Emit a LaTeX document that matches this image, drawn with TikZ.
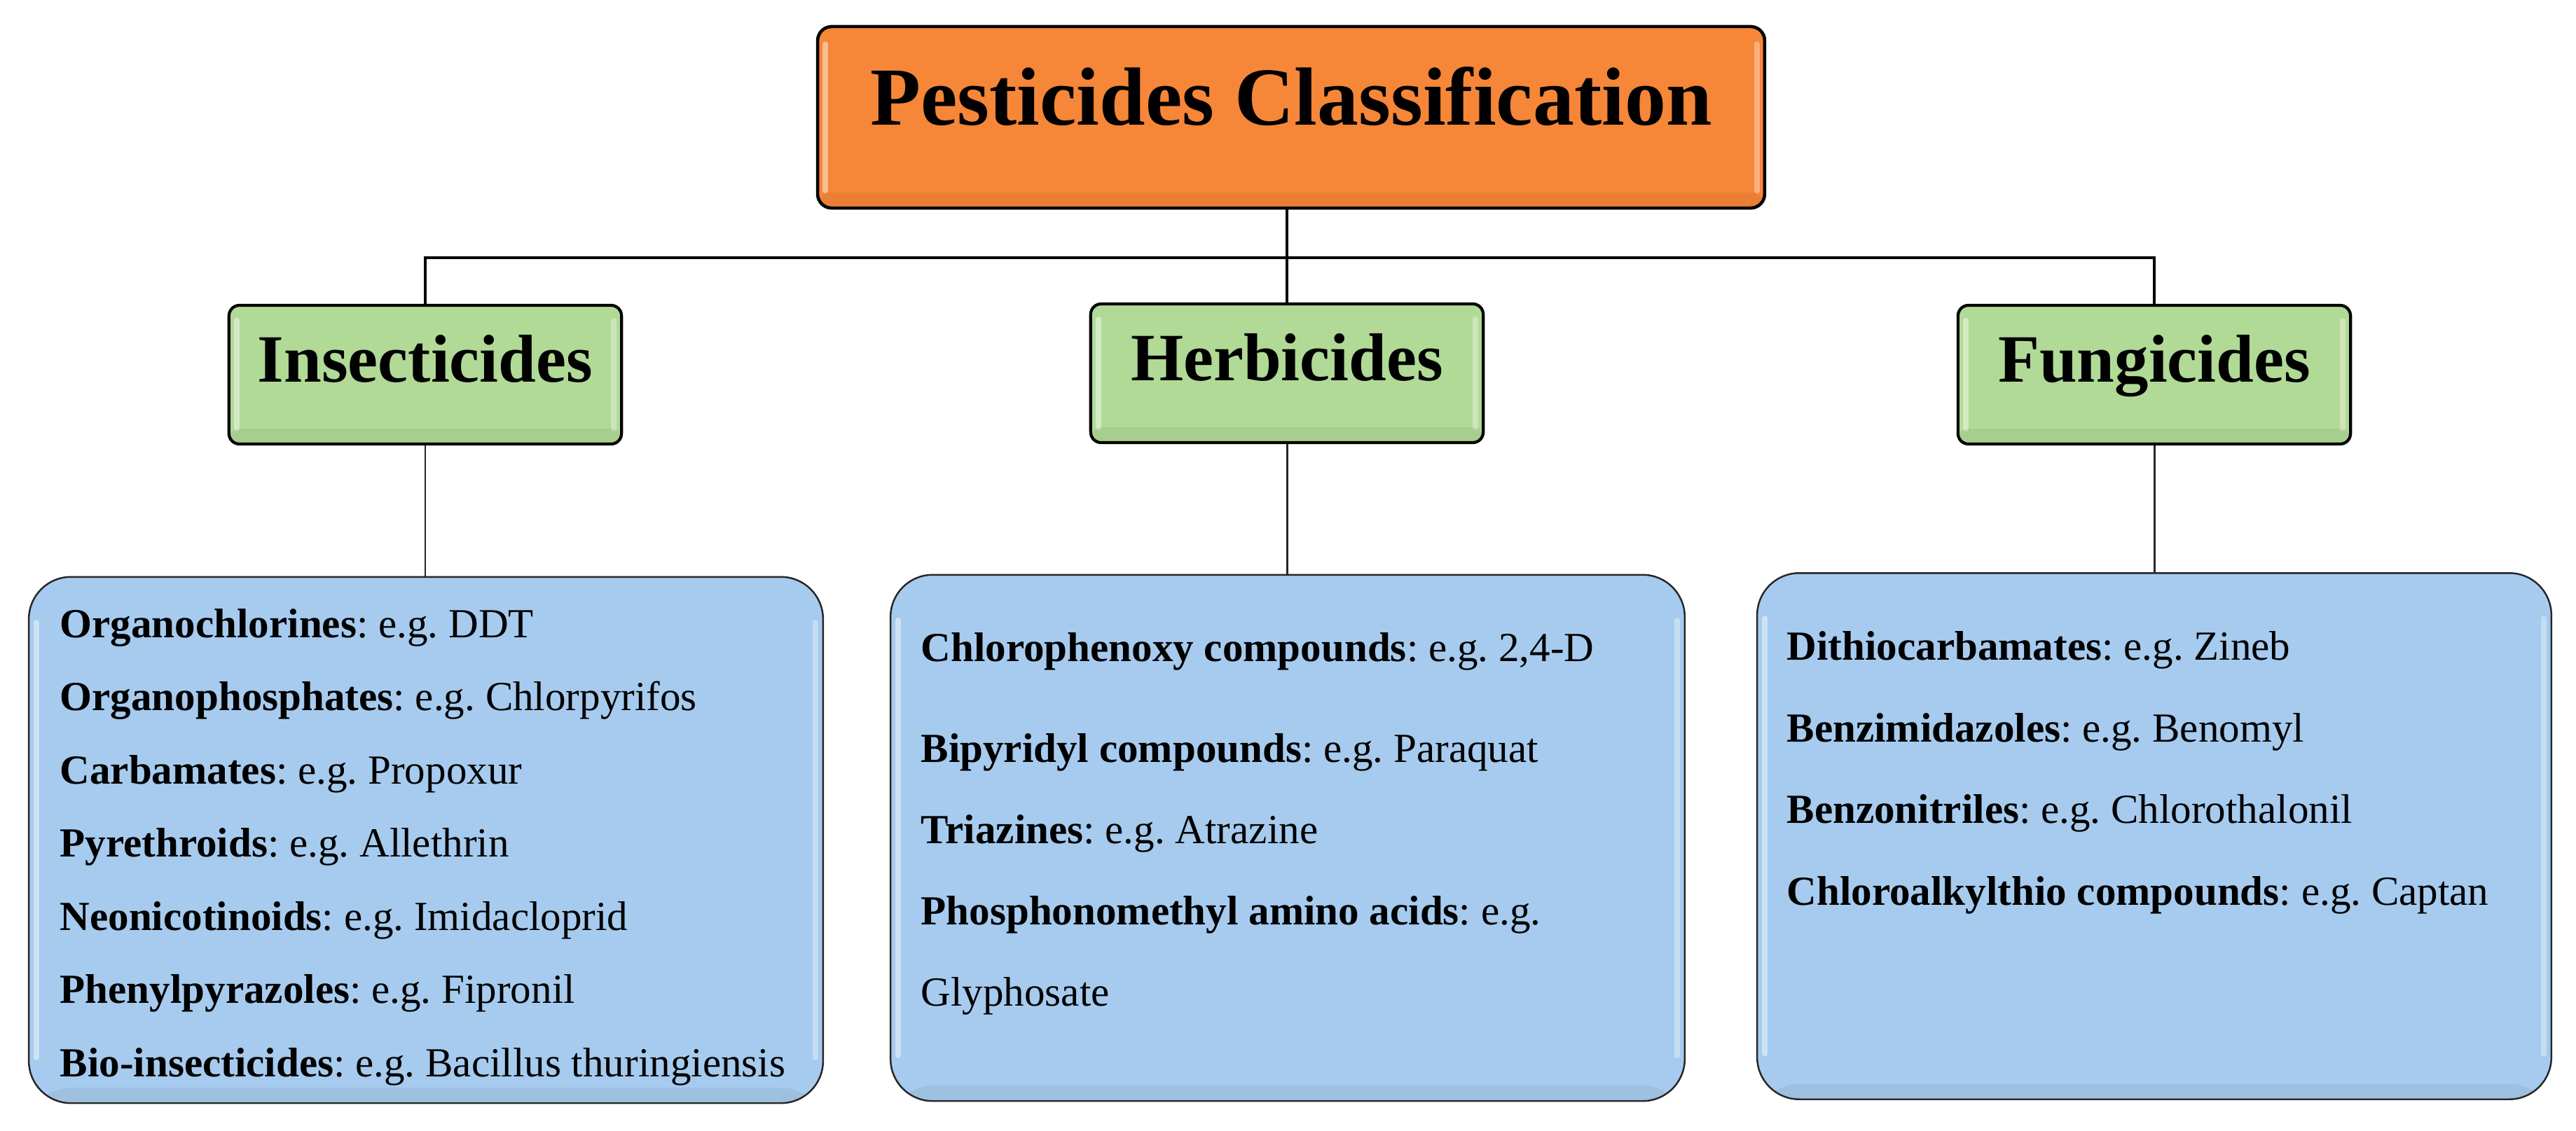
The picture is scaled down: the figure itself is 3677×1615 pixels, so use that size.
\documentclass[tikz,border=0pt]{standalone}
\usepackage{fontspec}
\setmainfont{Liberation Serif}
\definecolor{orangebox}{RGB}{246,134,56}
\definecolor{greenbox}{RGB}{177,218,150}
\definecolor{bluebox}{RGB}{166,203,238}
\newcommand\cfsbody{\fontsize{16.8pt}{20pt}\selectfont}
\newcommand\cfstitle{\fontsize{33.5pt}{38pt}\selectfont\bfseries}
\newcommand\cfsgroup{\fontsize{27.5pt}{32pt}\selectfont\bfseries}
\frenchspacing
\begin{document}
\begin{tikzpicture}[x=0.01cm,y=-0.01cm,
  bevel/.style={path picture={
    \draw[white,opacity=0.45,line width=2.2pt,line cap=round]
      ([shift={(11,#1)}]path picture bounding box.north west) --
      ([shift={(11,-#1)}]path picture bounding box.south west);
    \draw[white,opacity=0.35,line width=2.2pt,line cap=round]
      ([shift={(-11,#1)}]path picture bounding box.north east) --
      ([shift={(-11,-#1)}]path picture bounding box.south east);
    \fill[black,opacity=0.05]
      ([shift={(0,-22)}]path picture bounding box.south west) rectangle
      (path picture bounding box.south east);
  }},
  topbox/.style={draw=black, line width=1.3pt, fill=orangebox, rounded corners=0.2cm,
    minimum width=13.51cm, minimum height=2.59cm, inner sep=0pt,
    font=\cfstitle, text height=0.75em, text depth=0.15em, bevel=25},
  groupbox/.style={draw=black, line width=1.2pt, fill=greenbox, rounded corners=0.15cm,
    minimum width=5.6cm, minimum height=1.98cm, inner sep=0pt,
    font=\cfsgroup, text height=0.75em, text depth=0.13em, bevel=22},
  listbox/.style={draw=black!85, line width=0.7pt, fill=bluebox, rounded corners=0.6cm,
    minimum width=11.33cm, minimum height=7.51cm, inner sep=0pt, bevel=65},
  listline/.style={anchor=base west, inner sep=0pt, font=\cfsbody},
  mainconn/.style={draw=black, line width=0.9pt},
  subconn/.style={draw=black!85, line width=0.85pt}
]
\useasboundingbox (0,0) rectangle (3677,1615);

% boxes
\node[topbox] (top) at (1843,167.5) {Pesticides Classification};
\node[groupbox] (ins) at (607,535) {Insecticides};
\node[groupbox] (her) at (1837,533) {Herbicides};
\node[groupbox] (fun) at (3075,535) {Fungicides};
\node[listbox] (insl) at (608,1199.5) {};
\node[listbox] (herl) at (1838,1196.5) {};
\node[listbox] (funl) at (3075,1194) {};

% connectors
\coordinate (bus) at (1837,368);
\draw[mainconn] (her.north |- top.south) -- (her.north |- bus);
\draw[mainconn] (ins.north) -- (ins.north |- bus) -- (fun.north |- bus) -- (fun.north);
\draw[mainconn] (her.north |- bus) -- (her.north);
\draw[subconn] (ins.south) -- (ins.south |- insl.north);
\draw[subconn] (her.south) -- (her.south |- herl.north);
\draw[subconn] (fun.south) -- (fun.south |- funl.north);

% insecticides list
\node[listline] (i1) at (85,910)    {\textbf{Organochlorines}: e.g. DDT};
\node[listline] (i2) at (85,1014.5) {\textbf{Organophosphates}: e.g. Chlorpyrifos};
\node[listline] (i3) at (85,1119)   {\textbf{Carbamates}: e.g. Propoxur};
\node[listline] (i4) at (85,1223.5) {\textbf{Pyrethroids}: e.g. Allethrin};
\node[listline] (i5) at (85,1328)   {\textbf{Neonicotinoids}: e.g. Imidacloprid};
\node[listline] (i6) at (85,1432.5) {\textbf{Phenylpyrazoles}: e.g. Fipronil};
\node[listline] (i7) at (85,1537)   {\textbf{Bio-insecticides}: e.g. Bacillus thuringiensis};

% herbicides list
\node[listline] (h1) at (1314,944)  {\textbf{Chlorophenoxy compounds}: e.g. 2,4-D};
\node[listline] (h2) at (1314,1088) {\textbf{Bipyridyl compounds}: e.g. Paraquat};
\node[listline] (h3) at (1314,1204) {\textbf{Triazines}: e.g. Atrazine};
\node[listline] (h4) at (1314,1320) {\textbf{Phosphonomethyl amino acids}: e.g.};
\node[listline] (h5) at (1314,1436) {Glyphosate};

% fungicides list
\node[listline] (f1) at (2550,942)  {\textbf{Dithiocarbamates}: e.g. Zineb};
\node[listline] (f2) at (2550,1059) {\textbf{Benzimidazoles}: e.g. Benomyl};
\node[listline] (f3) at (2550,1175) {\textbf{Benzonitriles}: e.g. Chlorothalonil};
\node[listline] (f4) at (2550,1292) {\textbf{Chloroalkylthio compounds}: e.g. Captan};
\end{tikzpicture}
\end{document}
